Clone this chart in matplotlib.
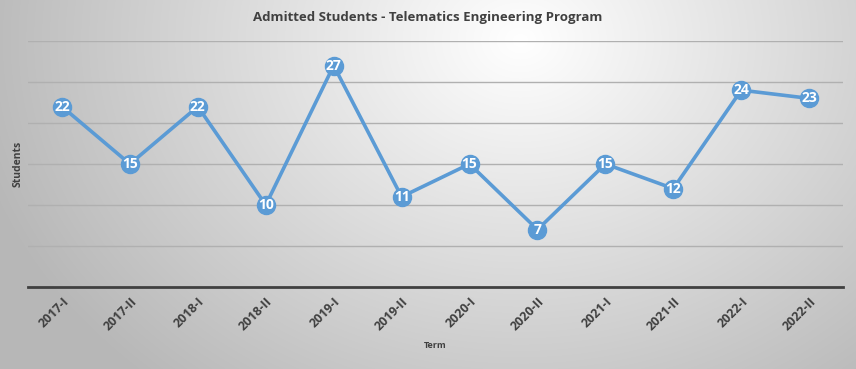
import matplotlib
matplotlib.use("Agg")
import matplotlib.pyplot as plt
import numpy as np

terms = ["2017-I", "2017-II", "2018-I", "2018-II", "2019-I", "2019-II",
         "2020-I", "2020-II", "2021-I", "2021-II", "2022-I", "2022-II"]
students = [22, 15, 22, 10, 27, 11, 15, 7, 15, 12, 24, 23]

plt.rcParams['font.family'] = ['Open Sans', 'DejaVu Sans']

fig = plt.figure(figsize=(8.56, 3.69), dpi=100)

# radial gradient background
bg = fig.add_axes([0, 0, 1, 1], zorder=-1)
yy, xx = np.mgrid[0:369, 0:856]
d = np.sqrt(((xx - 520) / 520.0) ** 2 + ((yy - 40) / 420.0) ** 2)
shade = np.clip(1.0 - 0.26 * d, 0.72, 1.0)
bg.imshow(np.dstack([shade] * 3), aspect='auto', extent=[0, 1, 0, 1])
bg.axis('off')

ax = fig.add_axes([0.0327, 0.2222, 0.9523, 0.6668])
ax.patch.set_alpha(0)
x = np.arange(len(terms))
ax.plot(x, students, color='#5b9bd5', lw=2.6, marker='o', ms=13,
        mec='#5b9bd5', mfc='#5b9bd5', zorder=3)
for xi, v in zip(x, students):
    ax.text(xi, v, str(v), color='white', fontsize=10, fontweight='bold',
            ha='center', va='center', zorder=4)

ax.set_xlim(-0.5, len(terms) - 0.5)
ax.set_ylim(0, 30)
ax.set_yticks(np.arange(5, 31, 5))
ax.yaxis.grid(True, color='#b0b0b0', lw=1)
ax.set_axisbelow(True)
ax.tick_params(axis='y', left=False, labelleft=False)
ax.tick_params(axis='x', length=0, pad=6)
ax.set_xticks(x)
ax.set_xticklabels(terms, rotation=45, ha='right', rotation_mode='anchor',
                   fontsize=9, fontweight='bold', color='#404040')
for s in ['top', 'right', 'left']:
    ax.spines[s].set_visible(False)
ax.spines['bottom'].set_color('#404040')
ax.spines['bottom'].set_linewidth(2)

fig.text(0.5, 0.953, 'Admitted Students - Telematics Engineering Program',
         ha='center', va='center', fontsize=9.5, fontweight='bold', color='#404040')
fig.text(0.021, 0.555, 'Students', rotation=90, ha='center', va='center',
         fontsize=7.5, fontweight='bold', color='#404040')
fig.text(0.508, 0.063, 'Term', ha='center', va='center',
         fontsize=6.5, fontweight='bold', color='#404040')

fig.savefig('out.png', dpi=100)
